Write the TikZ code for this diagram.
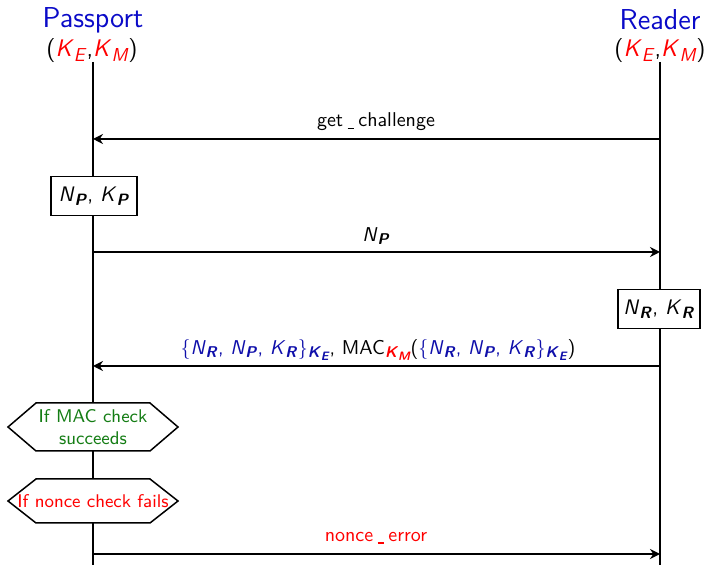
\documentclass[tikz,border=0pt]{standalone}
\usepackage{fontspec}
\usepackage{graphicx}
\renewcommand{\familydefault}{\sfdefault}
\usetikzlibrary{arrows.meta}

\definecolor{partyblue}{RGB}{10,10,200}
\definecolor{msgblue}{RGB}{15,15,170}
\definecolor{keyred}{RGB}{255,0,0}
\definecolor{okgreen}{RGB}{20,125,20}

% lowered, reduced subscript
\newcommand{\lowsub}[1]{\raisebox{-0.42ex}{\scalebox{0.78}{#1}}}
% italic symbol with a bold italic subscript
\newcommand{\isub}[2]{\textit{#1}\lowsub{\textbf{\textit{#2}}}}
% italic symbol with a plain italic subscript
\newcommand{\psub}[2]{\textit{#1}\lowsub{\textit{#2}}}
% key used as a subscript, itself with a subscript
\newcommand{\keysub}[2]{\lowsub{\textbf{\textit{#1}}\lowsub{\textbf{\textit{#2}}}}}
% short low underscore with a little space on each side
\newcommand{\us}{\hspace{0.22em}\rule[-0.1em]{0.32em}{0.06em}\hspace{0.22em}}

\begin{document}
\begin{tikzpicture}[x=0.5pt,y=-0.5pt,
  party/.style={text=partyblue,font=\fontsize{14.4}{16}\selectfont,inner sep=0pt},
  keys/.style={font=\fontsize{12}{14}\selectfont,inner sep=0pt},
  life/.style={line width=0.75pt},
  msg/.style={line width=0.9pt,-{Stealth[length=5pt,width=5pt]}},
  lbl/.style={font=\fontsize{10}{12}\selectfont,inner sep=0pt},
  valbox/.style={draw,line width=0.75pt,fill=white,minimum width=43pt,minimum height=19.5pt,inner sep=0pt,font=\fontsize{10.5}{12}\selectfont},
  hexshape/.style={draw,line width=0.75pt,fill=white},
  hextext/.style={align=center,inner sep=0pt,font=\fontsize{9.2}{11}\selectfont}]
\useasboundingbox (0,0) rectangle (706,565);

% parties and their keys
\node[party] (pname) at (93,20) {Passport};
\node[party] (rname) at (660,20) {Reader};
\node[keys] (pkeys) at (92,51) {(\textcolor{keyred}{\psub{K}{E}},\textcolor{keyred}{\psub{K}{M}})};
\node[keys] (rkeys) at (660,51) {(\textcolor{keyred}{\psub{K}{E}},\textcolor{keyred}{\psub{K}{M}})};

% lifelines
\coordinate (ptop) at (93,62);
\coordinate (pbot) at (93,565);
\coordinate (rtop) at (660,62);
\coordinate (rbot) at (660,565);
\draw[life] (ptop) -- (pbot);
\draw[life] (rtop) -- (rbot);

% message 1
\coordinate (m1r) at (660,139);
\coordinate (m1p) at (93,139);
\draw[msg] (m1r) -- (m1p);
\node[lbl] (l1) at (376,122) {get\us challenge};

% passport nonce and key
\node[valbox] (pbox) at (94,196) {\isub{N}{P}, \isub{K}{P}};

% message 2
\coordinate (m2p) at (93,252);
\coordinate (m2r) at (660,252);
\draw[msg] (m2p) -- (m2r);
\node[lbl] (l2) at (376,236) {\isub{N}{P}};

% reader nonce and key
\node[valbox,minimum width=41pt] (rbox) at (659,309) {\isub{N}{R}, \isub{K}{R}};

% message 3
\coordinate (m3r) at (660,366);
\coordinate (m3p) at (93,366);
\draw[msg] (m3r) -- (m3p);
\node[lbl] (l3) at (378,350) {\textcolor{msgblue}{\{\isub{N}{R}, \isub{N}{P}, \isub{K}{R}\}\keysub{K}{E}},\ MAC\textcolor{keyred}{\keysub{K}{M}}(\textcolor{msgblue}{\{\isub{N}{R}, \isub{N}{P}, \isub{K}{R}\}\keysub{K}{E}})};

% MAC check
\coordinate (hx1) at (93,427);
\draw[hexshape] (hx1) +(-85,0) -- +(-57,-24) -- +(57,-24) -- +(85,0) -- +(57,24) -- +(-57,24) -- cycle;
\node[hextext,text=okgreen] (mac) at (hx1) {If MAC check\\succeeds};

% nonce check
\coordinate (hx2) at (93,501);
\draw[hexshape] (hx2) +(-85,0) -- +(-57,-22) -- +(57,-22) -- +(85,0) -- +(57,22) -- +(-57,22) -- cycle;
\node[hextext,text=keyred] (nonce) at (hx2) {If nonce check fails};

% message 4
\coordinate (m4p) at (93,554);
\coordinate (m4r) at (660,554);
\draw[msg] (m4p) -- (m4r);
\node[lbl,text=keyred] (l4) at (376,538) {nonce\us error};
\end{tikzpicture}
\end{document}
